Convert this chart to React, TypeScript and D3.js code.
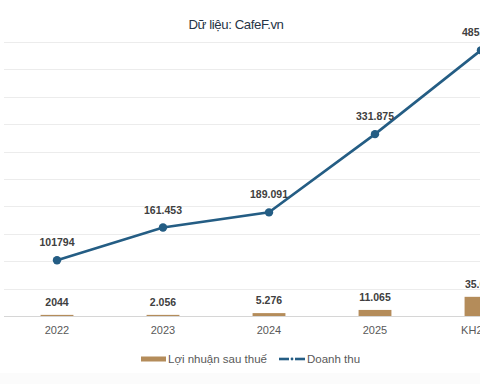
import React from 'react';
import * as d3 from 'd3';

// data
const categories = ['2022', '2023', '2024', '2025', 'KH2026'];
const profit = [2044, 2056, 5276, 11065, 35000];
const profitLabels = ['2044', '2.056', '5.276', '11.065', '35.000'];
const revenue = [101794, 161453, 189091, 331875, 485000];
const revenueLabels = ['101794', '161.453', '189.091', '331.875', '485.000'];

const W = 480;
const H = 384;
const BAR_COLOR = '#b48c5a';
const LINE_COLOR = '#245d84';
const FONT = '"Liberation Sans", Arial, sans-serif';

const App = () => {
  const x = d3.scaleBand<string>().domain(categories).range([4, 534]).padding(0);
  const y = d3.scaleLinear().domain([0, 500000]).range([316, 42]);
  const barW = x.step() * 0.31;
  const cx = (c: string) => (x(c) as number) + x.bandwidth() / 2;

  const line = d3.line<number>()
    .x((_, i) => cx(categories[i]))
    .y(d => y(d));

  const ticks = y.ticks(10);

  return (
    <div style={{ position: 'absolute', left: 0, top: 0 }}>
      <svg width={W} height={H} style={{ display: 'block', fontFamily: FONT }}>
        <rect x={0} y={0} width={W} height={H} fill="#ffffff" />
        <rect x={0} y={373} width={W} height={H - 373} fill="#fbfbfb" />

        <text x={236} y={29} textAnchor="middle" fontSize={13.2} letterSpacing={-0.4} fill="#263446">
          Dữ liệu: CafeF.vn
        </text>

        {/* gridlines */}
        {ticks.filter(t => t > 0).map(t => (
          <line key={t} x1={4} x2={534} y1={Math.round(y(t)) + 0.5} y2={Math.round(y(t)) + 0.5}
            stroke="#ececec" strokeWidth={1} />
        ))}

        {/* bars */}
        {profit.map((v, i) => (
          <rect key={categories[i]} x={cx(categories[i]) - barW / 2} y={y(v)}
            width={barW} height={Math.max(0, y(0) - y(v))} fill={BAR_COLOR} />
        ))}

        {/* baseline */}
        <line x1={4} x2={534} y1={y(0) + 0.5} y2={y(0) + 0.5} stroke="#d6d6d6" strokeWidth={1} />

        {profit.map((v, i) => (
          <text key={'pl' + i} x={cx(categories[i])} y={y(v) - 9} textAnchor="middle"
            fontSize={10.5} fontWeight="bold" fill="#404040">{profitLabels[i]}</text>
        ))}

        {/* revenue line */}
        <path d={line(revenue) || ''} fill="none" stroke={LINE_COLOR} strokeWidth={2.6} />
        {revenue.map((v, i) => (
          <circle key={'p' + i} cx={cx(categories[i])} cy={y(v)} r={4.2} fill={LINE_COLOR} />
        ))}
        {revenue.map((v, i) => (
          <text key={'rl' + i} x={cx(categories[i])} y={y(v) - 14} textAnchor="middle"
            fontSize={10.5} fontWeight="bold" fill="#404040">{revenueLabels[i]}</text>
        ))}

        {/* x axis labels */}
        {categories.map(c => (
          <text key={c} x={cx(c)} y={334} textAnchor="middle" fontSize={11} fill="#595959">{c}</text>
        ))}

        {/* legend */}
        <g fontSize={11.5} fill="#595959">
          <rect x={141} y={356.5} width={25} height={5} fill={BAR_COLOR} />
          <text x={168} y={363}>Lợi nhuận sau thuế</text>
          <line x1={279} x2={289} y1={359} y2={359} stroke={LINE_COLOR} strokeWidth={2.6} />
          <circle cx={292} cy={359} r={1.4} fill={LINE_COLOR} />
          <line x1={295} x2={305} y1={359} y2={359} stroke={LINE_COLOR} strokeWidth={2.6} />
          <text x={307} y={363}>Doanh thu</text>
        </g>
      </svg>
    </div>
  );
};

export default App;
